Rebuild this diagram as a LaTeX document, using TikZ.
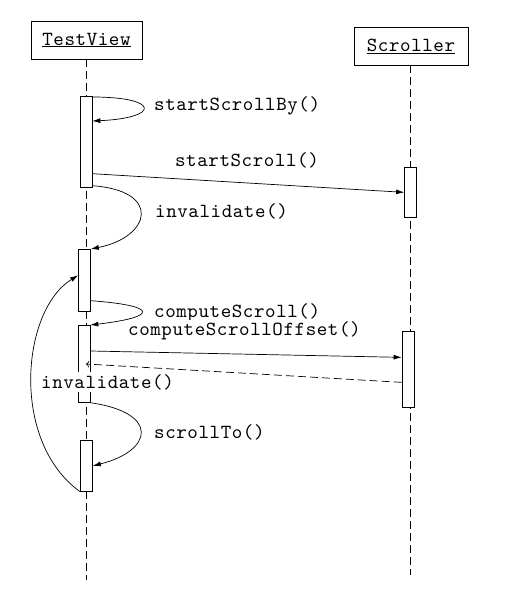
\documentclass[tikz,border=0pt]{standalone}
\usepackage{fontspec}
\setmonofont{lmmono10-regular.otf}[LetterSpace=3]
\usetikzlibrary{arrows.meta,calc}

\newcommand{\seqfont}{\ttfamily\fontsize{20}{22}\selectfont}

\tikzset{
  objbox/.style={draw, line width=0.8pt, minimum height=38pt, inner sep=0pt, font=\seqfont},
  lifeline/.style={dashed, dash pattern=on 8pt off 4pt, line width=0.7pt},
  actbar/.style={draw, fill=white, line width=0.7pt, minimum width=12pt, inner sep=0pt, anchor=north},
  msg/.style={-{Latex[length=8pt,width=5pt]}, line width=0.7pt},
  retmsg/.style={->, dashed, dash pattern=on 8pt off 4pt, line width=0.7pt},
  lbl/.style={font=\seqfont, inner sep=2pt}
}

\begin{document}
\begin{tikzpicture}[x=1pt, y=-1pt]
  \useasboundingbox (0,0) rectangle (505,604);

  % objects and lifelines
  \node[objbox, minimum width=111pt] (tv) at (86.5,40) {\underline{TestView}};
  \node[objbox, minimum width=114pt] (sc) at (411,46) {\underline{Scroller}};
  \coordinate (tvend) at (86.5,580);
  \coordinate (scend) at (410,575);
  \draw[lifeline] (tv.south) -- (tvend);
  \draw[lifeline] ([xshift=-1pt]sc.south) -- (scend);

  % activation bars
  \node[actbar, minimum height=91pt] (a1) at (86,96) {};
  \node[actbar, minimum height=50pt] (s1) at (410.5,167) {};
  \node[actbar, minimum height=62pt] (a2) at (84.5,249) {};
  \node[actbar, minimum height=77pt] (a3) at (84,325) {};
  \node[actbar, minimum height=76pt] (s2) at (408,331) {};
  \node[actbar, minimum height=51pt] (a4) at (86.5,440) {};

  % messages
  \draw[msg] ($(a1.north east)+(0,1)$) .. controls +(68,0) and +(68,-3) .. ($(a1.north east)+(0,25)$);
  \draw[msg] ($(a1.south east)+(0,-14)$) -- (s1.west);
  \draw[msg] ($(a1.south east)+(0,-2)$) .. controls +(70,5) and +(60,-12) .. (a2.north east);
  \draw[msg] ($(a2.south east)+(0,-11)$) .. controls +(68,5) and +(68,-8) .. (a3.north east);
  \draw[msg] ($(a3.north east)+(0,26)$) -- ($(s2.west)+(0,-12)$);
  \draw[retmsg] ($(s2.west)+(0,13)$) -- ($(a3.north)+(2,39)$);
  \draw[msg] (a3.south east) .. controls +(70,10) and +(60,-15) .. (a4.east);
  \draw[msg] (a4.south west) .. controls +(-70,-50) and +(-57,35) .. ($(a2.west)+(0,-5)$);

  % labels
  \node[lbl, anchor=west] (lsb) at (152,106) {startScrollBy()};
  \node[lbl] (lss) at (247,160) {startScroll()};
  \node[lbl, anchor=west] (linv) at (153,211) {invalidate()};
  \node[lbl, anchor=west] (lcs) at (152,313) {computeScroll()};
  \node[lbl, anchor=west, fill=white] (lcso) at (126,331) {computeScrollOffset()};
  \node[lbl, anchor=west, fill=white] (linv2) at (39,382) {invalidate()};
  \node[lbl, anchor=west] (lst) at (152,432) {scrollTo()};
\end{tikzpicture}
\end{document}
